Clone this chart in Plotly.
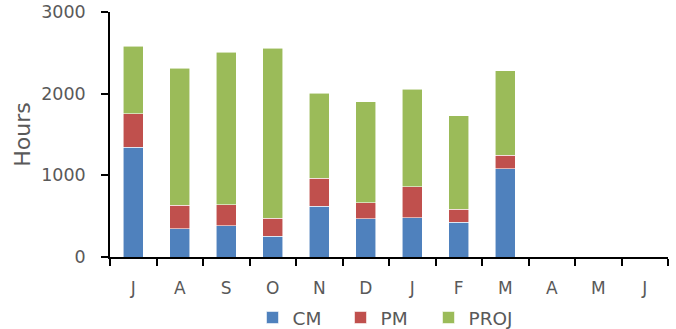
import plotly.graph_objects as go

months = ["Jul", "Aug", "Sep", "Oct", "Nov", "Dec", "Jan", "Feb", "Mar", "Apr", "May", "Jun"]
month_labels = ["J", "A", "S", "O", "N", "D", "J", "F", "M", "A", "M", "J"]
cm = [1347, 343, 383, 257, 624, 469, 478, 428, 1078, None, None, None]
pm = [408, 289, 257, 216, 339, 196, 383, 155, 166, None, None, None]
proj = [824, 1677, 1870, 2086, 1040, 1237, 1196, 1144, 1034, None, None, None]

series = [("CM", cm, "#4F81BD"), ("PM", pm, "#C0504D"), ("PROJ", proj, "#9BBB59")]

fig = go.Figure()
for name, vals, color in series:
    fig.add_trace(go.Bar(
        x=months, y=vals, name=name,
        marker=dict(color=color, line=dict(color="rgba(255,255,255,0.7)", width=0.8)),
    ))

font_family = "DejaVu Sans, sans-serif"
fig.update_layout(
    template="none",
    barmode="stack",
    bargap=0.58,
    width=676, height=329,
    margin=dict(l=110, r=8, t=12, b=72, autoexpand=False),
    paper_bgcolor="white", plot_bgcolor="white",
    font=dict(family=font_family, color="#595959", size=17),
    showlegend=True,
    legend=dict(orientation="h", x=252.5 / 676, xanchor="left", xref="container",
                y=1 - 318 / 329, yanchor="middle", yref="container",
                font=dict(size=18.5, color="#595959"),
                entrywidth=43, itemwidth=30, traceorder="normal",
                bgcolor="rgba(0,0,0,0)"),
    xaxis=dict(type="category", categoryorder="array", categoryarray=months,
               tickmode="array", tickvals=months, ticktext=month_labels,
               range=[-0.5, 11.5], tickson="boundaries",
               ticks="outside", ticklen=7, tickwidth=1.5, tickcolor="#000000",
               ticklabelstandoff=15,
               tickfont=dict(size=17, color="#595959"),
               showline=True, linecolor="#000000", linewidth=1.5,
               showgrid=False, zeroline=False, automargin=False),
    yaxis=dict(range=[0, 3000], dtick=1000, tick0=0, tickmode="linear",
               ticks="outside", ticklen=7, tickwidth=1.5, tickcolor="#000000",
               ticklabelstandoff=12,
               tickfont=dict(size=17.5, color="#595959"),
               showline=True, linecolor="#000000", linewidth=1.5,
               showgrid=False, zeroline=False, automargin=False,
               title=dict(text="Hours", font=dict(size=22, color="#595959"), standoff=5)),
)
fig.write_html("out.html", config={"displayModeBar": False},
               post_script="document.body.style.margin='0';document.body.style.overflow='hidden';")
